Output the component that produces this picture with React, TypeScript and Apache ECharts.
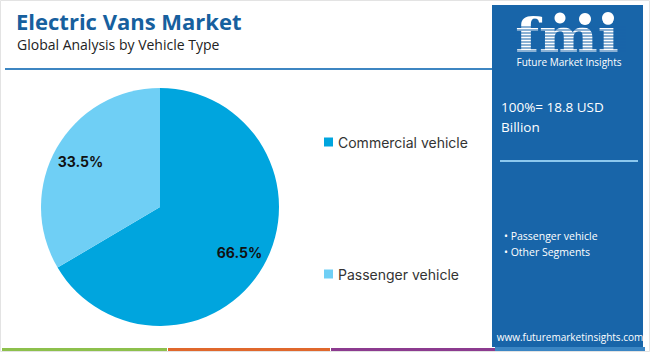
import React, { useEffect, useRef } from "react";
import * as echarts from "echarts";

const categories = ["Commercial vehicle", "Passenger vehicle"];
const shares = [66.5, 33.5];
const sliceColors = ["#00a5de", "#6fcff5"];
const titleText = "Electric Vans Market";
const subtitleText = "Global Analysis by Vehicle Type";
const totalLines = ["100%= 18.8 USD", "Billion"];
const otherSegments = ["Passenger vehicle", "Other Segments"];
const siteText = "www.futuremarketinsights.com";

export default function App() {
  const ref = useRef<HTMLDivElement>(null);
  useEffect(() => {
    if (!ref.current) return;
    const chart = echarts.init(ref.current, null, { renderer: "svg" });
    const data = categories.map((name, i) => ({
      name,
      value: shares[i],
      itemStyle: { color: sliceColors[i] },
    }));
    const panelColor = "#1865a9";
    const stripes: any[] = [];
    for (let y = 27; y <= 53; y += 3) {
      stripes.push({
        type: "line",
        shape: { x1: 510, y1: y, x2: 626, y2: y },
        style: { stroke: panelColor, lineWidth: 1 },
        z: 20,
      });
    }
    chart.setOption({
      animation: false,
      backgroundColor: "#ffffff",
      title: [
        {
          text: titleText,
          left: 11,
          top: 5,
          textStyle: { fontSize: 22, fontWeight: "bold", color: "#17609e", fontFamily: "Open Sans" },
        },
        {
          text: subtitleText,
          left: 12,
          top: 32,
          textStyle: { fontSize: 14, fontWeight: "normal", color: "#222222", fontFamily: "Open Sans" },
        },
      ],
      legend: {
        orient: "vertical",
        left: 319,
        top: 130,
        itemGap: 118,
        itemWidth: 9,
        itemHeight: 9,
        icon: "rect",
        data: categories,
        textStyle: { fontSize: 14, color: "#333333", fontFamily: "Inter" },
      },
      series: [
        {
          type: "pie",
          center: [160, 207],
          radius: [0, 119],
          startAngle: 90,
          clockwise: true,
          silent: true,
          label: { show: false },
          labelLine: { show: false },
          data,
        },
        {
          type: "pie",
          center: [160, 207],
          radius: [58, 119],
          startAngle: 90,
          clockwise: true,
          silent: true,
          itemStyle: { color: "transparent" },
          label: {
            show: true,
            position: "inside",
            formatter: (p: any) => `${p.value}%`,
            fontSize: 14,
            fontWeight: "bold",
            color: "#111111",
            fontFamily: "Inter",
          },
          labelLine: { show: false },
          data: categories.map((name, i) => ({ name, value: shares[i], itemStyle: { color: "transparent" } })),
        },
      ],
      graphic: [
        { type: "rect", shape: { x: 0.5, y: 0.5, width: 649, height: 351 }, style: { fill: "none", stroke: "#e3e3e3", lineWidth: 1 }, z: 0 },
        { type: "line", shape: { x1: 5, y1: 69, x2: 492, y2: 69 }, style: { stroke: "#3d86c2", lineWidth: 2 } },
        { type: "rect", shape: { x: 492, y: 5, width: 151, height: 342 }, style: { fill: panelColor }, z: 10 },
        {
          type: "text",
          x: 567,
          y: 36,
          scaleX: 1.18,
          style: { text: "fmi", fill: "#ffffff", font: "bold 47px 'DejaVu Serif'", lineHeight: 38, textAlign: "center", textVerticalAlign: "middle" },
          z: 15,
        },
        ...stripes,
        { type: "circle", shape: { cx: 560, cy: 18, r: 5.5 }, style: { fill: "#ffffff" }, z: 21 },
        { type: "circle", shape: { cx: 585, cy: 19, r: 6 }, style: { fill: "#ffffff" }, z: 21 },
        { type: "circle", shape: { cx: 608, cy: 18, r: 6 }, style: { fill: "#ffffff" }, z: 21 },
        {
          type: "text",
          x: 569,
          y: 62,
          style: { text: "Future Market Insights", fill: "#ffffff", font: "10px 'Open Sans'", textAlign: "center", textVerticalAlign: "middle" },
          z: 21,
        },
        {
          type: "text",
          x: 501,
          y: 97,
          style: { text: totalLines.join("\n"), fill: "#ffffff", font: "13.5px 'Open Sans'", lineHeight: 20 },
          z: 21,
        },
        { type: "line", shape: { x1: 500, y1: 161, x2: 638, y2: 161 }, style: { stroke: "#8cc8ee", lineWidth: 2 }, z: 21 },
        {
          type: "text",
          x: 504,
          y: 228,
          style: { text: otherSegments.map((s) => "\u2022 " + s).join("\n"), fill: "#ffffff", font: "10.5px 'Open Sans'", lineHeight: 16 },
          z: 21,
        },
        {
          type: "text",
          x: 570,
          y: 337,
          style: { text: siteText, fill: "#ffffff", font: "10px 'Open Sans'", textAlign: "center", textVerticalAlign: "middle" },
          z: 21,
        },
        { type: "rect", shape: { x: 2, y: 348, width: 165, height: 3 }, style: { fill: "#8dc04c" } },
        { type: "rect", shape: { x: 168, y: 348, width: 162, height: 3 }, style: { fill: "#e0682c" } },
        { type: "rect", shape: { x: 331, y: 348, width: 164, height: 3 }, style: { fill: "#8c3b8f" } },
        { type: "rect", shape: { x: 495, y: 347, width: 150, height: 4 }, style: { fill: "#3b86c4" } },
      ],
    });
    return () => chart.dispose();
  }, []);
  return (
    <div
      ref={ref}
      style={{ position: "fixed", left: 0, top: 0, width: 650, height: 352 }}
    />
  );
}
